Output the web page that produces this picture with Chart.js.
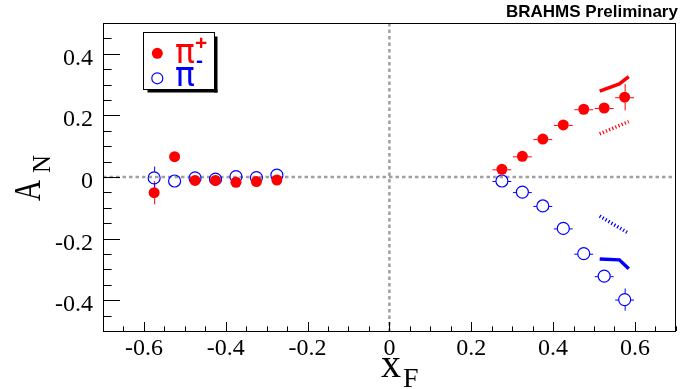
<!DOCTYPE html>
<html><head><meta charset="utf-8">
<script src="https://cdn.jsdelivr.net/npm/chart.js@4/dist/chart.umd.min.js"></script>
<style>html,body{margin:0;padding:0;background:#fff;overflow:hidden}#wrap{width:683px;height:389px;position:relative}</style>
</head><body><div id="wrap"><canvas id="c" width="683" height="389"></canvas></div>
<script>
// ---- data ----
const xF = [-0.575,-0.525,-0.475,-0.425,-0.375,-0.325,-0.275,0.275,0.325,0.375,0.425,0.475,0.525,0.575];
const xErr = [0,0,0,0,0,0,0,0.023,0.023,0.023,0.023,0.023,0.023,0.023];
const piPlusAN = [-0.051,0.066,-0.011,-0.011,-0.017,-0.015,-0.010,0.025,0.067,0.123,0.169,0.220,0.224,0.259];
const piPlusErr = [0.038,0.016,0.01,0.01,0.01,0.01,0.01,0.01,0.01,0.01,0.01,0.01,0.012,0.043];
const piMinusAN = [-0.003,-0.013,-0.003,-0.007,0.001,-0.002,0.006,-0.013,-0.049,-0.094,-0.167,-0.249,-0.322,-0.398];
const piMinusErr = [0.037,0.01,0.01,0.01,0.01,0.01,0.01,0.01,0.01,0.01,0.01,0.01,0.012,0.036];
const theoryX = [0.514,0.562,0.585];
const redSolidY = [0.279,0.302,0.326];
const blueSolidY = [-0.266,-0.269,-0.298];
const dottedX = [0.514,0.585];
const redDottedY = [0.140,0.180];
const blueDottedY = [-0.127,-0.183];
const xTicks = [-0.6,-0.4,-0.2,0,0.2,0.4,0.6];
const yTicks = [-0.4,-0.2,0,0.2,0.4];
const RED = '#ff0000', BLUE = '#0000ff';
const SERIF = '"Liberation Serif", "Times New Roman", serif';

const pts = (xs, ys) => xs.map((x, i) => ({x: x, y: ys[i]}));
const fmt = v => (Math.abs(v) < 1e-9 ? '0' : v.toFixed(1));

const errorBars = {
  id: 'errorBars',
  beforeDatasetsDraw(chart) {
    const ctx = chart.ctx, xs = chart.scales.x, ys = chart.scales.y;
    const sets = [[piPlusAN, piPlusErr, RED, 5.5], [piMinusAN, piMinusErr, BLUE, 6]];
    ctx.save();
    ctx.lineWidth = 1;
    sets.forEach(([vals, errs, col, r]) => {
      ctx.strokeStyle = col;
      xF.forEach((x, i) => {
        const px = xs.getPixelForValue(x), py = ys.getPixelForValue(vals[i]);
        const top = ys.getPixelForValue(vals[i] + errs[i]), bot = ys.getPixelForValue(vals[i] - errs[i]);
        const lft = xs.getPixelForValue(x - xErr[i]), rgt = xs.getPixelForValue(x + xErr[i]);
        ctx.beginPath();
        if (py - top > r) { ctx.moveTo(px + 0.5, top); ctx.lineTo(px + 0.5, py - r); }
        if (bot - py > r) { ctx.moveTo(px + 0.5, py + r); ctx.lineTo(px + 0.5, bot); }
        if (px - lft > r) { ctx.moveTo(lft, py + 0.5); ctx.lineTo(px - r, py + 0.5); }
        if (rgt - px > r) { ctx.moveTo(px + r, py + 0.5); ctx.lineTo(rgt, py + 0.5); }
        ctx.stroke();
      });
    });
    ctx.restore();
  }
};

const frame = {
  id: 'frame',
  beforeDatasetsDraw(chart) {
    const ctx = chart.ctx, a = chart.chartArea, xs = chart.scales.x, ys = chart.scales.y;
    ctx.save();
    ctx.strokeStyle = '#a0a0a0';
    ctx.lineWidth = 2.5;
    ctx.setLineDash([3.5, 3]);
    const y0 = ys.getPixelForValue(0), x0 = xs.getPixelForValue(0);
    ctx.beginPath(); ctx.moveTo(a.left, y0); ctx.lineTo(a.right, y0); ctx.stroke();
    ctx.beginPath(); ctx.moveTo(x0, a.top); ctx.lineTo(x0, a.bottom); ctx.stroke();
    ctx.setLineDash([]);
    ctx.restore();
  },
  afterDraw(chart) {
    const ctx = chart.ctx, a = chart.chartArea, xs = chart.scales.x, ys = chart.scales.y;
    ctx.save();
    ctx.strokeStyle = '#000';
    ctx.lineWidth = 1;
    ctx.strokeRect(Math.round(a.left) + 0.5, Math.round(a.top) + 0.5, Math.round(a.right - a.left) - 1, Math.round(a.bottom - a.top));
    ctx.beginPath();
    for (let i = -10; i <= 10; i++) {
      const py = Math.round(ys.getPixelForValue(i * 0.05)) + 0.5;
      const len = (i % 4 === 0) ? 17 : 8.6;
      ctx.moveTo(a.left, py); ctx.lineTo(a.left + len, py);
    }
    for (let i = -14; i <= 14; i++) {
      const px = Math.round(xs.getPixelForValue(i * 0.05)) + 0.5;
      const len = (i % 4 === 0) ? 9 : 4.6;
      ctx.moveTo(px, a.bottom); ctx.lineTo(px, a.bottom - len);
    }
    ctx.stroke();

    // tick labels from the library's scale ticks
    ctx.fillStyle = '#000';
    ctx.font = '24px ' + SERIF;
    ctx.textBaseline = 'alphabetic';
    ctx.textAlign = 'center';
    xs.ticks.forEach(t => ctx.fillText(fmt(t.value), xs.getPixelForValue(t.value), a.bottom + 23.5));
    ctx.textAlign = 'right';
    ys.ticks.forEach(t => ctx.fillText(fmt(t.value), a.left - 10, ys.getPixelForValue(t.value) + 11));

    // axis titles
    ctx.textAlign = 'left';
    ctx.font = '40px ' + SERIF;
    ctx.fillText('x', 381, 377);
    ctx.font = '28px ' + SERIF;
    ctx.fillText('F', 403, 387);

    ctx.save();
    ctx.translate(40, 201);
    ctx.rotate(-Math.PI / 2);
    ctx.save();
    ctx.scale(0.78, 1);
    ctx.font = '37px ' + SERIF;
    ctx.fillText('A', 0, 0);
    ctx.restore();
    ctx.font = '25px ' + SERIF;
    ctx.fillText('N', 28, 10);
    ctx.restore();

    // title
    ctx.font = 'bold 17px "Liberation Sans"';
    ctx.fillText('BRAHMS Preliminary', 506, 17);

    // legend
    const bx = 143.5, by = 32.5, bw = 71, bh = 57;
    ctx.fillStyle = '#000';
    ctx.fillRect(bx + bw, by + 4, 3, bh - 1);
    ctx.fillRect(bx + 4, by + bh, bw - 1, 3);
    ctx.fillStyle = '#fff';
    ctx.fillRect(bx, by, bw, bh);
    ctx.strokeStyle = '#000';
    ctx.strokeRect(bx, by, bw, bh);
    ctx.fillStyle = RED;
    ctx.beginPath(); ctx.arc(157.3, 53.3, 5.5, 0, Math.PI * 2); ctx.fill();
    ctx.strokeStyle = BLUE; ctx.lineWidth = 1.2;
    ctx.beginPath(); ctx.arc(157.3, 78.3, 5.5, 0, Math.PI * 2); ctx.stroke();
    ctx.font = '33px "DejaVu Sans"';
    ctx.fillStyle = RED;
    ctx.fillText('\u03c0', 175, 63);
    ctx.font = 'bold 21px "Liberation Sans"';
    ctx.fillText('+', 195, 50);
    ctx.fillStyle = BLUE;
    ctx.font = '33px "DejaVu Sans"';
    ctx.fillText('\u03c0', 175, 86);
    ctx.font = 'bold 21px "Liberation Sans"';
    ctx.fillText('-', 196, 67);
    ctx.restore();
  }
};

new Chart(document.getElementById('c'), {
  type: 'scatter',
  data: {
    datasets: [
      {label: 'pi+', data: pts(xF, piPlusAN), pointStyle: 'circle', pointRadius: 5.5, pointHoverRadius: 5.5,
       backgroundColor: RED, borderColor: RED, borderWidth: 0, showLine: false},
      {label: 'pi-', data: pts(xF, piMinusAN), pointStyle: 'circle', pointRadius: 6, pointHoverRadius: 6,
       backgroundColor: 'rgba(0,0,0,0)', borderColor: BLUE, borderWidth: 1.2, showLine: false},
      {type: 'line', label: 'th1', data: pts(theoryX, redSolidY), borderColor: RED, borderWidth: 3.5, pointRadius: 0, fill: false, tension: 0},
      {type: 'line', label: 'th2', data: pts(dottedX, redDottedY), borderColor: RED, borderWidth: 3.5, borderDash: [1.2, 2.2], pointRadius: 0, fill: false},
      {type: 'line', label: 'th3', data: pts(dottedX, blueDottedY), borderColor: BLUE, borderWidth: 3.5, borderDash: [1.2, 2.2], pointRadius: 0, fill: false},
      {type: 'line', label: 'th4', data: pts(theoryX, blueSolidY), borderColor: BLUE, borderWidth: 3.5, pointRadius: 0, fill: false, tension: 0}
    ]
  },
  options: {
    responsive: false,
    animation: false,
    devicePixelRatio: 1,
    layout: {padding: {top: 23, right: 4, left: 0, bottom: 0}},
    plugins: {legend: {display: false}, tooltip: {enabled: false}, title: {display: false}},
    scales: {
      x: {
        type: 'linear', min: -0.7, max: 0.7,
        grid: {display: false, drawTicks: false}, border: {display: false},
        afterBuildTicks: s => { s.ticks = xTicks.map(v => ({value: v})); },
        afterFit: s => { s.height = 58; },
        ticks: {display: false}
      },
      y: {
        type: 'linear', min: -0.5, max: 0.5,
        grid: {display: false, drawTicks: false}, border: {display: false},
        afterBuildTicks: s => { s.ticks = yTicks.map(v => ({value: v})); },
        afterFit: s => { s.width = 103; },
        ticks: {display: false}
      }
    }
  },
  plugins: [frame, errorBars]
});
</script>
</body></html>
